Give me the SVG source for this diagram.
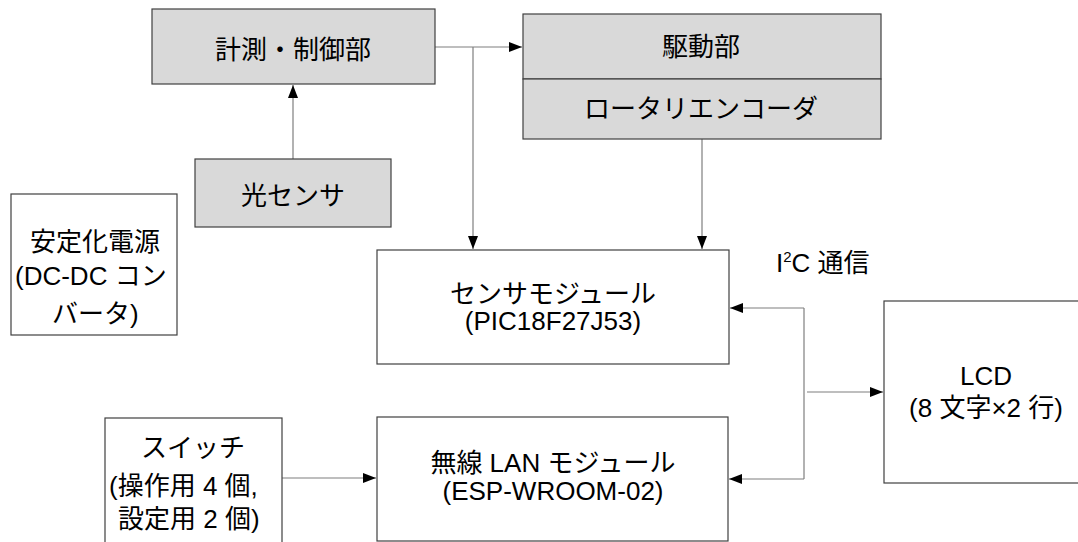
<svg xmlns="http://www.w3.org/2000/svg" width="1078" height="542" viewBox="0 0 1078 542">
<style>
.box{fill:#ffffff;stroke:#404040;stroke-width:1.2}
.gbox{fill:#d9d9d9;stroke:#404040;stroke-width:1.2}
.t{font-family:"Liberation Sans","Noto Sans CJK JP",sans-serif;font-size:26px;fill:#000}
.c{text-anchor:middle}
.ln{fill:none;stroke:#7f7f7f;stroke-width:1.2}
</style>
<defs>
<marker id="ah" markerUnits="userSpaceOnUse" markerWidth="13" markerHeight="10" refX="13" refY="5" orient="auto">
<path d="M0,0 L13,5 L0,10 z" fill="#000"/>
</marker>
</defs>
<rect width="1078" height="542" fill="#fff"/>
<g id="connectors">
<path class="ln" d="M435,47 H522" marker-end="url(#ah)"/>
<path class="ln" d="M473,47 V249" marker-end="url(#ah)"/>
<path class="ln" d="M293,159 V85" marker-end="url(#ah)"/>
<path class="ln" d="M702,139 V249" marker-end="url(#ah)"/>
<path class="ln" d="M804,308 H730" marker-end="url(#ah)"/>
<path class="ln" d="M804,308 V479"/>
<path class="ln" d="M804,479 H729" marker-end="url(#ah)"/>
<path class="ln" d="M807,392 H883" marker-end="url(#ah)"/>
<path class="ln" d="M282,478 H376" marker-end="url(#ah)"/>
</g>
<g id="keisoku">
<rect class="gbox" x="152" y="9" width="283" height="75"/>
<text class="t c" x="293" y="59">計測・制御部</text>
</g>
<g id="kudou">
<rect class="gbox" x="523" y="14" width="358" height="65"/>
<text class="t c" x="701" y="56">駆動部</text>
</g>
<g id="encoder">
<rect class="gbox" x="523" y="79" width="358" height="60"/>
<text class="t c" x="701" y="118">ロータリエンコーダ</text>
</g>
<g id="hikari">
<rect class="gbox" x="195" y="159" width="196" height="68"/>
<text class="t c" x="293" y="205">光センサ</text>
</g>
<g id="dengen">
<rect class="box" x="11" y="194" width="166" height="141"/>
<text class="t" x="30" y="251">安定化電源</text>
<text class="t" x="15" y="285">(DC-DC コン</text>
<text class="t" x="52" y="323">バータ)</text>
</g>
<g id="sensor">
<rect class="box" x="377" y="250" width="352" height="114"/>
<text class="t c" x="553" y="303">センサモジュール</text>
<text class="t c" x="553" y="330">(PIC18F27J53)</text>
</g>
<g id="i2c">
<text class="t" x="776" y="272">I<tspan font-size="15" dy="-10">2</tspan><tspan dy="10">C 通信</tspan></text>
</g>
<g id="lcd">
<rect class="box" x="884" y="301" width="210" height="182"/>
<text class="t c" x="986" y="385">LCD</text>
<text class="t c" x="986" y="417">(8 文字×2 行)</text>
</g>
<g id="wireless">
<rect class="box" x="377" y="417" width="351" height="124"/>
<text class="t c" x="553" y="472">無線 LAN モジュール</text>
<text class="t c" x="553" y="500">(ESP-WROOM-02)</text>
</g>
<g id="switch">
<rect class="box" x="105" y="418" width="177" height="140"/>
<text class="t c" x="193" y="457">スイッチ</text>
<text class="t" x="109" y="495">(操作用 4 個,</text>
<text class="t" x="118" y="528"> 設定用 2 個)</text>
</g>
</svg>
